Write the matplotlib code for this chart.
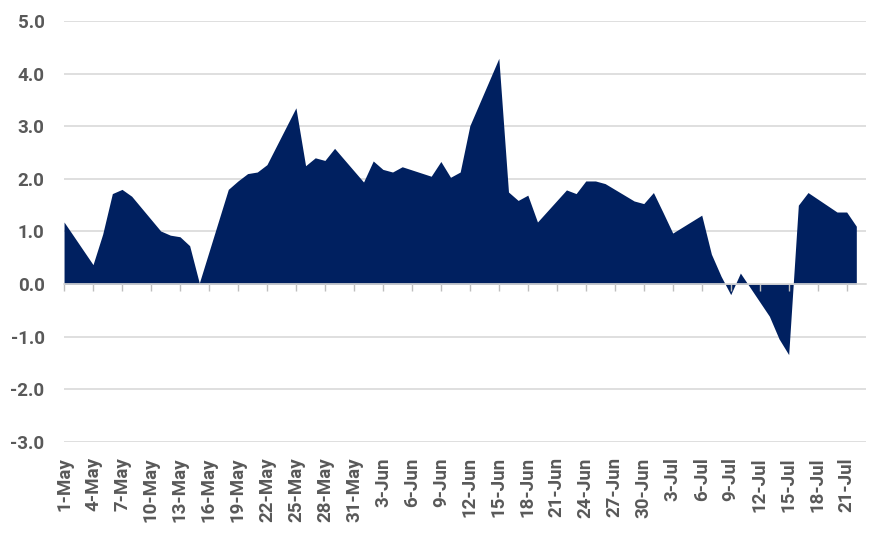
import matplotlib
matplotlib.use("Agg")
import matplotlib.pyplot as plt
import matplotlib.dates as mdates
import matplotlib.ticker as mticker
import pandas as pd

# business-day readings, May-Jul 2020
dates = [
    "2020-05-01", "2020-05-04", "2020-05-05", "2020-05-06", "2020-05-07", "2020-05-08",
    "2020-05-11", "2020-05-12", "2020-05-13", "2020-05-14", "2020-05-15",
    "2020-05-18", "2020-05-19", "2020-05-20", "2020-05-21", "2020-05-22",
    "2020-05-25", "2020-05-26", "2020-05-27", "2020-05-28", "2020-05-29",
    "2020-06-01", "2020-06-02", "2020-06-03", "2020-06-04", "2020-06-05",
    "2020-06-08", "2020-06-09", "2020-06-10", "2020-06-11", "2020-06-12",
    "2020-06-15", "2020-06-16", "2020-06-17", "2020-06-18", "2020-06-19",
    "2020-06-22", "2020-06-23", "2020-06-24", "2020-06-25", "2020-06-26",
    "2020-06-29", "2020-06-30", "2020-07-01", "2020-07-02", "2020-07-03",
    "2020-07-06", "2020-07-07", "2020-07-08", "2020-07-09", "2020-07-10",
    "2020-07-13", "2020-07-14", "2020-07-15", "2020-07-16", "2020-07-17",
    "2020-07-20", "2020-07-21", "2020-07-22",
]
values = [
    1.18, 0.37, 0.95, 1.72, 1.80, 1.67,
    1.01, 0.93, 0.90, 0.73, 0.02,
    1.80, 1.96, 2.10, 2.13, 2.27,
    3.35, 2.25, 2.40, 2.35, 2.58,
    1.94, 2.34, 2.18, 2.13, 2.23,
    2.05, 2.33, 2.03, 2.13, 3.01,
    4.29, 1.75, 1.59, 1.69, 1.18,
    1.79, 1.72, 1.96, 1.96, 1.91,
    1.58, 1.53, 1.74, 1.36, 0.97,
    1.31, 0.57, 0.15, -0.20, 0.21,
    -0.61, -1.04, -1.34, 1.50, 1.74,
    1.37, 1.37, 1.10,
]
y_ticks = [-3.0, -2.0, -1.0, 0.0, 1.0, 2.0, 3.0, 4.0, 5.0]
x_ticks = pd.date_range("2020-05-01", "2020-07-21", freq="3D")

NAVY = "#002060"
TEXT = "#595959"
GRID = "#d9d9d9"

plt.rcParams["font.family"] = ["Roboto", "DejaVu Sans"]

x = pd.to_datetime(dates)

fig = plt.figure(figsize=(8.87, 5.34), dpi=100)
ax = fig.add_axes([0.0722, 0.1723, 0.9041, 0.7884])

ax.fill_between(x, values, 0, color=NAVY, linewidth=0, interpolate=True, zorder=2)

ax.set_ylim(-3, 5)
ax.set_xlim(pd.Timestamp("2020-05-01"), pd.Timestamp("2020-07-23"))
ax.set_yticks(y_ticks)
ax.set_yticklabels([f"{v:.1f}" for v in y_ticks])
ax.grid(True, axis="y", color=GRID, linewidth=1.2)
ax.set_axisbelow(True)

for s in ax.spines.values():
    s.set_visible(False)

ax.set_xticks(x_ticks)
ax.xaxis.set_major_formatter(mdates.DateFormatter("%-d-%b"))
ax.tick_params(axis="x", length=0, pad=11, labelrotation=90,
               labelsize=13.5, labelcolor=TEXT)
ax.tick_params(axis="y", length=0, pad=14, labelsize=13.5, labelcolor=TEXT)
for lab in ax.get_xticklabels() + ax.get_yticklabels():
    lab.set_fontweight("bold")

# category axis line with tick marks at zero (no labels)
zero_pos = (0 - y_ticks[0]) / (y_ticks[-1] - y_ticks[0])
sec = ax.secondary_xaxis(zero_pos)
sec.xaxis.set_ticks_position("bottom")
sec.set_xticks(x_ticks)
sec.xaxis.set_major_formatter(mticker.NullFormatter())
sec.tick_params(axis="x", length=5, width=1, color="#bfbfbf",
                labelbottom=False, labeltop=False, direction="out")
sec.spines["bottom"].set_color(GRID)
sec.spines["bottom"].set_linewidth(1.2)
sec.spines["top"].set_visible(False)
sec.set_zorder(5)

fig.savefig("out.png", dpi=100, facecolor="white")
